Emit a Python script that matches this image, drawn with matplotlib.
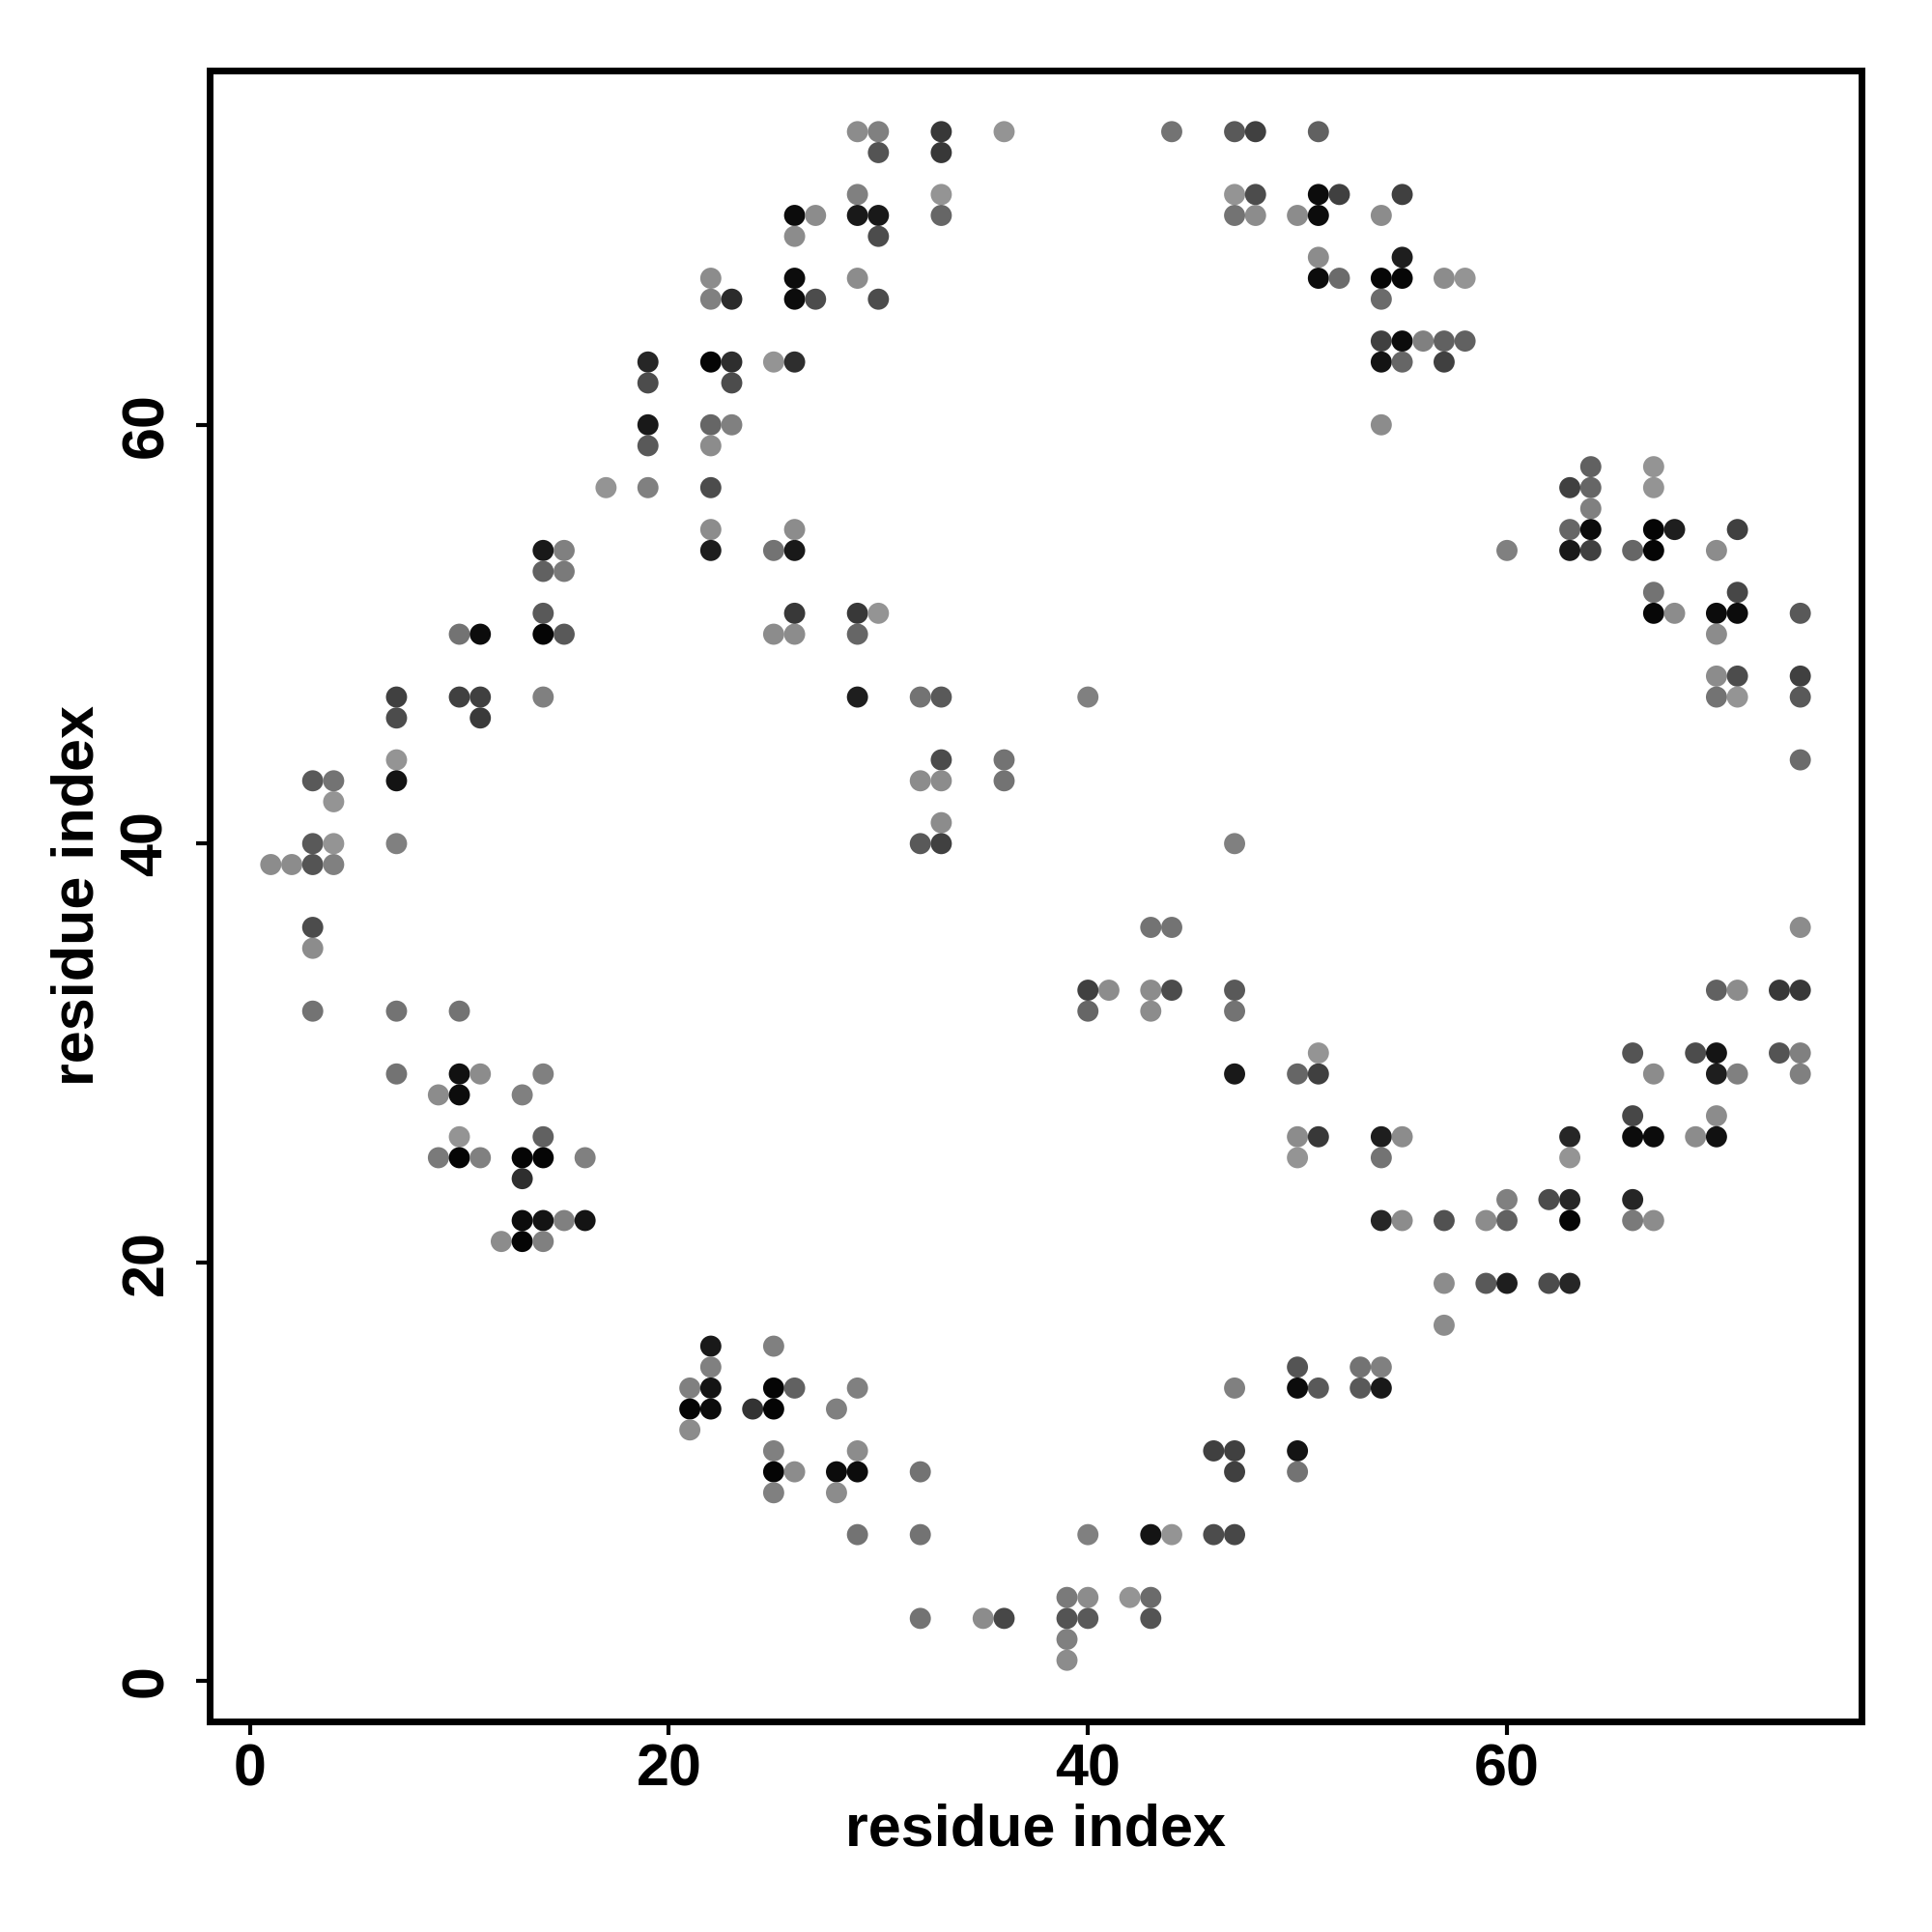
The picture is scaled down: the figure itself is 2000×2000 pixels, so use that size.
import matplotlib
matplotlib.use("Agg")
import matplotlib.pyplot as plt

# contact pairs (residue i, residue j) and grey level of each point (0 = black, 1 = white)
res_i = [1, 2, 3, 4, 3, 4, 3, 4, 4, 3, 3, 3,
         7, 7, 7, 7, 7, 7, 7,
         10, 11, 10, 11, 11, 10, 9, 10, 11, 10, 10, 9, 10, 11,
         14, 15, 14, 15, 14, 14, 15, 14,
         13, 14, 14, 13, 14, 16, 13, 13, 14, 15, 16, 12, 13, 14,
         17, 19, 19, 19, 19, 19,
         22, 22, 23, 22, 23, 23, 22, 23, 22, 22, 22, 22,
         25, 26, 25, 26, 26, 25, 26, 26,
         29, 30, 29, 29, 32, 33, 40,
         33, 36, 32, 33, 36, 33, 32, 33, 47,
         29, 30, 33, 36, 44, 47, 48, 51,
         30, 33,
         29, 33, 47, 48, 51, 52, 55,
         26, 27, 29, 30, 33, 47, 48, 50, 51, 54,
         26, 30,
         51, 55,
         26, 29, 51, 52, 54, 55, 57, 58,
         26, 27, 30, 54,
         54, 55, 56, 57, 58,
         54, 55, 57,
         54,
         64, 67, 63, 64, 67, 64,
         63, 64, 67, 68, 71,
         60, 63, 64, 66, 67, 70,
         67, 71, 67, 68, 70, 71, 74,
         70, 70, 71, 74, 70, 71, 74, 74,
         43, 44, 40, 41, 43, 44, 47, 40, 43, 47,
         47, 50, 51, 51, 50, 51, 50,
         74, 70, 71, 73, 74,
         66, 69, 70, 73, 74,
         67, 70, 71, 74,
         66, 70,
         54, 55, 63, 66, 67, 69, 70,
         54, 63,
         60, 62, 63, 66,
         54, 55, 57, 59, 60, 63, 66, 67,
         57, 59, 60, 62, 63, 57,
         22, 21, 22, 22, 21, 22, 21,
         24, 25, 25, 25, 25, 25, 25,
         26, 29, 28, 29, 26, 28, 29, 32, 28,
         29, 32, 40, 43, 44, 46, 47,
         46, 47, 47, 50, 50,
         47, 50, 50, 51, 53, 54, 53, 54,
         39, 40, 42, 43,
         32, 35, 36, 39, 40, 43,
         39, 39]

res_j = [39, 39, 39, 39, 40, 40, 43, 43, 42, 36, 35, 32,
         47, 46, 44, 43, 40, 32, 29,
         50, 50, 47, 47, 46, 32, 28, 29, 29, 28, 26, 25, 25, 25,
         54, 54, 53, 53, 51, 50, 50, 47,
         28, 29, 26, 25, 25, 25, 24, 22, 22, 22, 22, 21, 21, 21,
         57, 63, 62, 60, 59, 57,
         67, 66, 66, 63, 63, 62, 60, 60, 59, 57, 55, 54,
         63, 63, 54, 54, 55, 50, 50, 51,
         51, 51, 50, 47, 47, 47, 47,
         44, 44, 43, 43, 43, 41, 40, 40, 40,
         74, 74, 74, 74, 74, 74, 74, 74,
         73, 73,
         71, 71, 71, 71, 71, 71, 71,
         70, 70, 70, 70, 70, 70, 70, 70, 70, 70,
         69, 69,
         68, 68,
         67, 67, 67, 67, 67, 67, 67, 67,
         66, 66, 66, 66,
         64, 64, 64, 64, 64,
         63, 63, 63,
         60,
         58, 58, 57, 57, 57, 56,
         55, 55, 55, 55, 55,
         54, 54, 54, 54, 54, 54,
         52, 52, 51, 51, 51, 51, 51,
         50, 48, 48, 48, 47, 47, 47, 44,
         36, 36, 33, 33, 33, 33, 33, 32, 32, 32,
         29, 29, 29, 30, 26, 26, 25,
         36, 33, 33, 33, 33,
         30, 30, 30, 30, 30,
         29, 29, 29, 29,
         27, 27,
         26, 26, 26, 26, 26, 26, 26,
         25, 25,
         23, 23, 23, 23,
         22, 22, 22, 22, 22, 22, 22, 22,
         19, 19, 19, 19, 19, 17,
         16, 14, 15, 14, 13, 13, 12,
         13, 13, 14, 16, 11, 10, 9,
         14, 14, 13, 11, 10, 10, 10, 10, 9,
         7, 7, 7, 7, 7, 7, 7,
         11, 11, 10, 11, 10,
         14, 15, 14, 14, 15, 15, 14, 14,
         4, 4, 4, 4,
         3, 3, 3, 3, 3, 3,
         2, 1]

grey = [0.55, 0.55, 0.33, 0.50, 0.35, 0.58, 0.35, 0.45, 0.58, 0.30, 0.55, 0.45,
        0.25, 0.30, 0.58, 0.08, 0.50, 0.45, 0.45,
        0.45, 0.05, 0.25, 0.25, 0.23, 0.45, 0.55, 0.07, 0.55, 0.05, 0.58, 0.48, 0.02, 0.50,
        0.10, 0.50, 0.38, 0.48, 0.35, 0.02, 0.35, 0.50,
        0.50, 0.50, 0.38, 0.02, 0.02, 0.50, 0.18, 0.05, 0.08, 0.50, 0.08, 0.55, 0.02, 0.50,
        0.58, 0.15, 0.30, 0.10, 0.35, 0.50,
        0.55, 0.50, 0.17, 0.02, 0.18, 0.30, 0.40, 0.50, 0.55, 0.30, 0.55, 0.12,
        0.58, 0.18, 0.45, 0.10, 0.55, 0.55, 0.55, 0.22,
        0.22, 0.58, 0.40, 0.12, 0.45, 0.35, 0.50,
        0.30, 0.45, 0.55, 0.55, 0.45, 0.55, 0.35, 0.25, 0.50,
        0.55, 0.50, 0.22, 0.58, 0.45, 0.35, 0.25, 0.38,
        0.33, 0.22,
        0.50, 0.58, 0.58, 0.30, 0.05, 0.25, 0.25,
        0.05, 0.55, 0.10, 0.10, 0.40, 0.45, 0.55, 0.55, 0.05, 0.55,
        0.55, 0.30,
        0.55, 0.12,
        0.05, 0.55, 0.05, 0.42, 0.03, 0.03, 0.55, 0.58,
        0.05, 0.30, 0.30, 0.42,
        0.25, 0.05, 0.50, 0.38, 0.38,
        0.08, 0.40, 0.25,
        0.55,
        0.38, 0.58, 0.25, 0.40, 0.58, 0.50,
        0.40, 0.05, 0.02, 0.12, 0.25,
        0.50, 0.10, 0.25, 0.40, 0.02, 0.55,
        0.45, 0.28, 0.03, 0.55, 0.05, 0.05, 0.35,
        0.55, 0.55, 0.30, 0.25, 0.45, 0.58, 0.35, 0.42,
        0.45, 0.45, 0.25, 0.55, 0.55, 0.30, 0.35, 0.40, 0.55, 0.45,
        0.10, 0.40, 0.25, 0.58, 0.55, 0.22, 0.58,
        0.55, 0.38, 0.55, 0.22, 0.22,
        0.33, 0.30, 0.08, 0.33, 0.50,
        0.55, 0.12, 0.50, 0.50,
        0.28, 0.55,
        0.12, 0.55, 0.15, 0.05, 0.05, 0.55, 0.07,
        0.45, 0.58,
        0.50, 0.30, 0.15, 0.15,
        0.15, 0.55, 0.32, 0.55, 0.38, 0.02, 0.48, 0.55,
        0.55, 0.35, 0.12, 0.30, 0.15, 0.55,
        0.10, 0.50, 0.50, 0.08, 0.02, 0.05, 0.55,
        0.20, 0.02, 0.02, 0.50, 0.50, 0.02, 0.50,
        0.38, 0.50, 0.50, 0.55, 0.55, 0.05, 0.05, 0.45, 0.55,
        0.45, 0.45, 0.50, 0.08, 0.58, 0.30, 0.28,
        0.25, 0.25, 0.25, 0.08, 0.45,
        0.50, 0.33, 0.05, 0.35, 0.45, 0.50, 0.35, 0.10,
        0.48, 0.55, 0.58, 0.42,
        0.45, 0.55, 0.28, 0.33, 0.35, 0.33,
        0.50, 0.55]

ticks = [0, 20, 40, 60]
x_title = "residue index"
y_title = "residue index"

plt.rcParams['font.family'] = ['Liberation Sans', 'DejaVu Sans']
plt.rcParams['font.weight'] = 'bold'

fig = plt.figure(figsize=(10, 10), dpi=200)
ax = fig.add_axes([0.1085, 0.109, 0.855, 0.8545])

ax.scatter(res_i, res_j, c=grey, cmap='gray', vmin=0, vmax=1, s=62,
           linewidths=0, zorder=3)

lo, hi = 1, 74
pad = (hi - lo) * 0.04
ax.set_xlim(lo - pad, hi + pad)
ax.set_ylim(lo - pad, hi + pad)

ax.set_xticks(ticks)
ax.set_yticks(ticks)
ax.set_xticklabels([str(t) for t in ticks], fontsize=22, fontweight='bold')
ax.set_yticklabels([str(t) for t in ticks], fontsize=22, fontweight='bold',
                   rotation=90, va='center')
ax.tick_params(axis='both', direction='out', length=5, width=1.5, color='black')
ax.tick_params(axis='x', pad=3)
ax.tick_params(axis='y', pad=8)

for sp in ax.spines.values():
    sp.set_linewidth(2.5)
    sp.set_color('black')

ax.set_xlabel(x_title, fontsize=22, fontweight='bold', labelpad=2)
ax.set_ylabel(y_title, fontsize=22, fontweight='bold', labelpad=5)

fig.savefig("out.png", dpi=200, facecolor='white')
